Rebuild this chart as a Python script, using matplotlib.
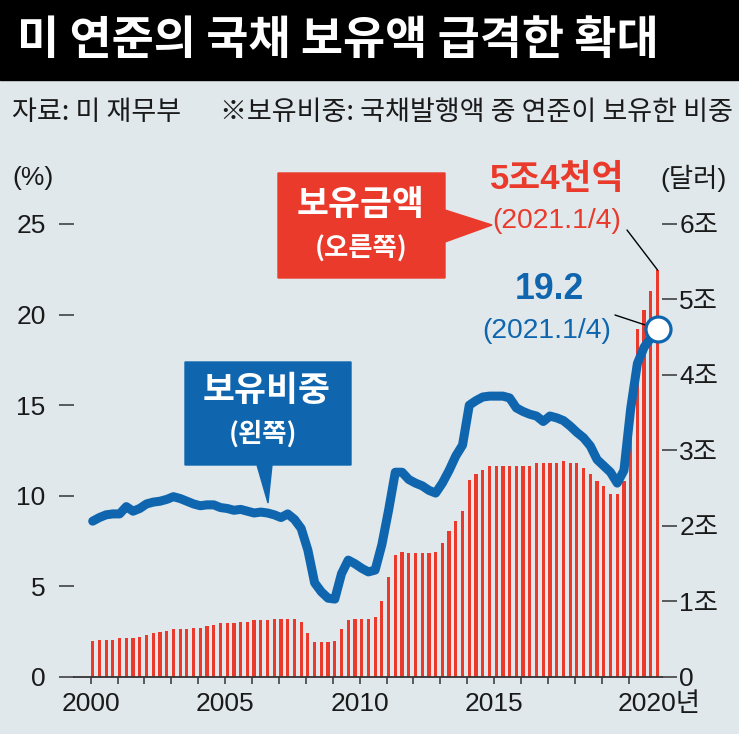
import matplotlib
matplotlib.use('Agg')
import matplotlib.pyplot as plt
from matplotlib import font_manager
from matplotlib.patches import Polygon, Rectangle

# 분기별 데이터: 2000년 1분기 ~ 2021년 1분기
start_year = 2000
share_pct = [8.6, 8.8, 8.95, 9.0, 9.0, 9.4, 9.15, 9.3, 9.55, 9.65,
             9.7, 9.8, 9.95, 9.85, 9.7, 9.55, 9.45, 9.5, 9.5, 9.35,
             9.3, 9.2, 9.25, 9.15, 9.05, 9.1, 9.05, 8.95, 8.8, 9.0,
             8.7, 8.2, 7.0, 5.2, 4.7, 4.35, 4.3, 5.7, 6.45, 6.25,
             6.0, 5.8, 5.9, 7.3, 9.2, 11.3, 11.3, 10.9, 10.7, 10.55,
             10.3, 10.15, 10.7, 11.4, 12.2, 12.8, 15.0, 15.25, 15.45, 15.5,
             15.5, 15.5, 15.4, 14.85, 14.65, 14.5, 14.4, 14.1, 14.4, 14.3,
             14.15, 13.85, 13.5, 13.2, 12.75, 12.0, 11.65, 11.3, 10.7, 11.4,
             14.8, 17.3, 18.2, 18.7, 19.2]
holdings_tril = [0.48, 0.49, 0.49, 0.49, 0.52, 0.52, 0.52, 0.53, 0.56, 0.58,
                 0.60, 0.61, 0.64, 0.64, 0.64, 0.65, 0.65, 0.67, 0.69, 0.71,
                 0.71, 0.71, 0.73, 0.73, 0.75, 0.75, 0.75, 0.77, 0.77, 0.77,
                 0.77, 0.73, 0.58, 0.46, 0.46, 0.46, 0.48, 0.64, 0.75, 0.77,
                 0.77, 0.77, 0.79, 1.01, 1.33, 1.61, 1.66, 1.64, 1.64, 1.64,
                 1.64, 1.66, 1.78, 1.93, 2.07, 2.20, 2.61, 2.69, 2.74, 2.79,
                 2.79, 2.79, 2.79, 2.80, 2.80, 2.80, 2.83, 2.83, 2.84, 2.84,
                 2.86, 2.84, 2.83, 2.77, 2.69, 2.60, 2.53, 2.43, 2.42, 2.6,
                 3.4, 4.61, 4.86, 5.11, 5.39]
left_ticks = [0, 5, 10, 15, 20, 25]
right_ticks = [0, 1, 2, 3, 4, 5, 6]
right_labels = ['0', '1조', '2조', '3조', '4조', '5조', '6조']
year_labels = {2000: '2000', 2005: '2005', 2010: '2010', 2015: '2015'}

title = '미 연준의 국채 보유액 급격한 확대'
source = '자료: 미 재무부'
note = '※보유비중: 국채발행액 중 연준이 보유한 비중'

BG = '#e0e8ec'
RED = '#ea3a2c'
BLUE = '#0f66ae'
INK = '#1a1a1a'
CJK = 'Noto Sans CJK KR'

names = {f.name for f in font_manager.fontManager.ttflist}
NARROW = 'Liberation Sans Narrow' if 'Liberation Sans Narrow' in names else 'Liberation Sans'
k = 1.0 if NARROW == 'Liberation Sans Narrow' else 0.95
NUM = [NARROW, CJK]

W, H = 739, 734
fig = plt.figure(figsize=(W / 100, H / 100), dpi=100, facecolor=BG)


def fp(x, y):
    return (x / W, 1 - y / H)


# 제목 띠
fig.add_artist(Rectangle((0, 1 - 80 / H), 1, 80 / H, transform=fig.transFigure,
                         color='black', zorder=0))
fig.text(*fp(17, 41), title, color='white', fontsize=33, fontweight='bold',
         family=CJK, va='center')
fig.text(*fp(12, 113), source, color=INK, fontsize=19.5, family=CJK, va='center')
fig.text(*fp(220, 113), note, color=INK, fontsize=19.5, family=CJK, va='center')

ax = fig.add_axes([74 / W, 57 / H, 588 / W, 507.4 / H])
ax2 = ax.twinx()
ax.set_zorder(ax2.get_zorder() + 1)
ax.patch.set_visible(False)

pos = [start_year + 0.25 * i + 0.075 for i in range(len(share_pct))]

ax2.bar(pos, holdings_tril, width=0.12, color=RED, zorder=2)
ax.plot(pos, share_pct, color=BLUE, lw=6.5, solid_joinstyle='round',
        solid_capstyle='round', zorder=4)
ax.plot(pos[-1], share_pct[-1], 'o', ms=18, mfc='white', mec=BLUE, mew=2.3,
        zorder=5, clip_on=False)

ax.set_xlim(1999.38, 2021.24)
ax.set_ylim(0, 28)
ax2.set_ylim(0, 28 * 6 / 25)

for a in (ax, ax2):
    for s in a.spines.values():
        s.set_visible(False)
ax.spines['bottom'].set_visible(True)
ax.spines['bottom'].set_color('#333333')
ax.spines['bottom'].set_linewidth(1.3)

ax.set_yticks(left_ticks)
ax.set_yticklabels([str(t) for t in left_ticks], family=NUM, fontsize=20 * k, color=INK)
ax.tick_params(axis='y', length=10.5, width=1.1, color='#333333', pad=10)

ax2.set_yticks(right_ticks)
ax2.set_yticklabels(right_labels, family=NUM, fontsize=20 * k, color=INK)
ax2.tick_params(axis='y', length=10.5, width=1.1, color='#333333', pad=2)

years = list(range(2000, 2021))
ax.set_xticks(years)
ax.set_xticklabels([year_labels.get(y, '') for y in years], family=NUM,
                   fontsize=20 * k, color=INK)
ax.tick_params(axis='x', length=5, width=1.1, color='#333333', pad=6)
ax.text(2019.58, -0.053, '2020년', transform=ax.get_xaxis_transform(),
        family=NUM, fontsize=20 * k, color=INK, ha='left', va='center')

fig.text(*fp(33, 178), '(%)', family=NUM, fontsize=20 * k, color=INK,
         ha='center', va='center')
fig.text(*fp(693, 178), '(달러)', family=NUM, fontsize=20 * k, color=INK,
         ha='center', va='center')

# 말풍선
red_box = [(278, 173), (445, 173), (445, 210), (492, 225), (445, 242),
           (445, 278), (278, 278)]
blue_box = [(185, 362), (351, 362), (351, 465), (272, 465), (268, 503),
            (257, 465), (185, 465)]
fig.add_artist(Polygon([fp(*p) for p in red_box], closed=True,
                       transform=fig.transFigure, color=RED, zorder=6))
fig.add_artist(Polygon([fp(*p) for p in blue_box], closed=True,
                       transform=fig.transFigure, color=BLUE, zorder=6))
fig.text(*fp(361, 205), '보유금액', color='white', fontsize=25, fontweight='bold',
         family=CJK, ha='center', va='center', zorder=7)
fig.text(*fp(361, 249), '(오른쪽)', color='white', fontsize=19, fontweight='bold',
         family=CJK, ha='center', va='center', zorder=7)
fig.text(*fp(267, 390), '보유비중', color='white', fontsize=25, fontweight='bold',
         family=CJK, ha='center', va='center', zorder=7)
fig.text(*fp(263, 434), '(왼쪽)', color='white', fontsize=19, fontweight='bold',
         family=CJK, ha='center', va='center', zorder=7)

# 최신값 표시
fig.text(*fp(557, 180), '5조4천억', color=RED, fontsize=25, fontweight='bold',
         family=NUM, ha='center', va='center')
fig.text(*fp(557, 221), '(2021.1/4)', color=RED, fontsize=21.5 * k,
         family=NUM, ha='center', va='center')
fig.text(*fp(549, 290), '19.2', color=BLUE, fontsize=27 * k, fontweight='bold',
         family=NUM, ha='center', va='center')
fig.text(*fp(547, 331), '(2021.1/4)', color=BLUE, fontsize=21.5 * k,
         family=NUM, ha='center', va='center')

ax2.annotate('', xy=(pos[-1], holdings_tril[-1]), xycoords='data',
             xytext=(627, H - 230), textcoords='figure pixels',
             arrowprops=dict(arrowstyle='-', color='black', lw=1,
                             shrinkA=0, shrinkB=0))
ax.annotate('', xy=(pos[-1], share_pct[-1]), xycoords='data',
            xytext=(615, H - 315), textcoords='figure pixels',
            arrowprops=dict(arrowstyle='-', color='black', lw=1,
                            shrinkA=0, shrinkB=9))

fig.savefig('out.png', dpi=100, facecolor=BG)
